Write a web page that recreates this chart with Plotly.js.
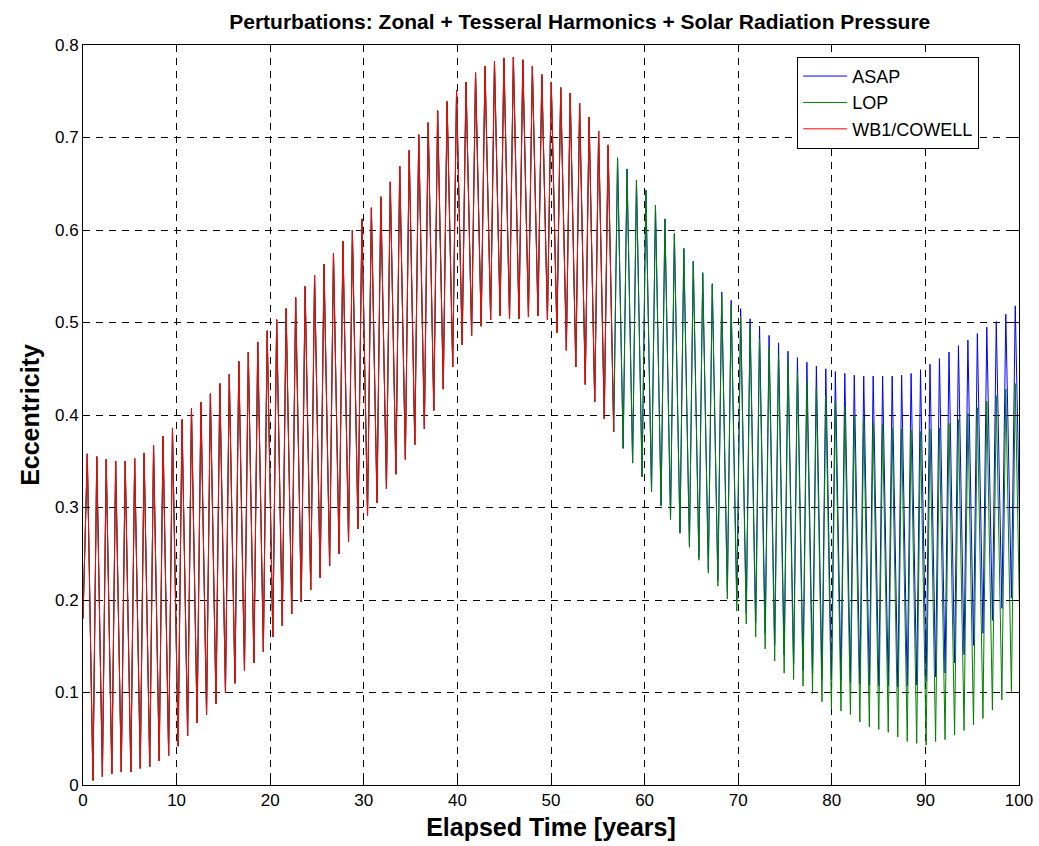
<!DOCTYPE html>
<html><head><meta charset="utf-8">
<script src="https://cdn.plot.ly/plotly-3.0.1.min.js"></script>
<style>body{margin:0;background:#fff}#chart{width:1039px;height:846px}</style>
</head><body><div id="chart"></div>
<script>
// Value at t = 0 (all three propagators start together)
const startValue = 0.18;

// Time (years) of each orbital-cycle maximum and the following minimum
const peakTimes = [0.46,1.47,2.48,3.49,4.51,5.52,6.53,7.54,8.55,9.56,10.58,11.59,12.60,13.61,14.62,15.63,16.65,17.66,18.67,19.68,
 20.69,21.70,22.72,23.73,24.74,25.75,26.76,27.77,28.78,29.80,30.81,31.82,32.83,33.84,34.85,35.87,36.88,37.89,38.90,39.91,
 40.92,41.94,42.95,43.96,44.97,45.98,46.99,48.01,49.02,50.03,51.04,52.05,53.06,54.07,55.09,56.10,57.11,58.12,59.13,60.14,
 61.16,62.17,63.18,64.19,65.20,66.21,67.23,68.24,69.25,70.26,71.27,72.28,73.30,74.31,75.32,76.33,77.34,78.35,79.36,80.38,
 81.39,82.40,83.41,84.42,85.43,86.45,87.46,88.47,89.48,90.49,91.50,92.52,93.53,94.54,95.55,96.56,97.57,98.59,99.60];
const troughTimes = [1.06,2.07,3.08,4.09,5.11,6.12,7.13,8.14,9.15,10.16,11.18,12.19,13.20,14.21,15.22,16.23,17.25,18.26,19.27,20.28,
 21.29,22.30,23.32,24.33,25.34,26.35,27.36,28.37,29.38,30.40,31.41,32.42,33.43,34.44,35.45,36.47,37.48,38.49,39.50,40.51,
 41.52,42.54,43.55,44.56,45.57,46.58,47.59,48.61,49.62,50.63,51.64,52.65,53.66,54.67,55.69,56.70,57.71,58.72,59.73,60.74,
 61.76,62.77,63.78,64.79,65.80,66.81,67.83,68.84,69.85,70.86,71.87,72.88,73.90,74.91,75.92,76.93,77.94,78.95,79.96,80.98,
 81.99,83.00,84.01,85.02,86.03,87.05,88.06,89.07,90.08,91.09,92.10,93.12,94.13,95.14,96.15,97.16,98.17,99.19,100.20];

// Cycles 0..55: all three propagators agree
const commonPeaks = [0.358,0.355,0.352,0.350,0.350,0.353,0.359,0.367,0.377,0.386,0.395,0.407,0.414,0.423,0.434,0.444,0.458,0.468,0.479,0.491,
 0.503,0.515,0.527,0.539,0.551,0.563,0.575,0.588,0.600,0.612,0.624,0.636,0.652,0.669,0.686,0.703,0.716,0.729,0.739,0.751,
 0.760,0.770,0.777,0.782,0.786,0.787,0.784,0.777,0.768,0.760,0.754,0.748,0.737,0.722,0.707,0.692];
const commonTroughs = [0.005,0.009,0.012,0.014,0.014,0.018,0.020,0.026,0.032,0.042,0.053,0.067,0.076,0.088,0.100,0.110,0.124,0.132,0.144,0.160,
 0.172,0.185,0.198,0.211,0.224,0.237,0.250,0.263,0.277,0.291,0.305,0.320,0.336,0.352,0.368,0.385,0.405,0.428,0.452,0.476,
 0.486,0.496,0.503,0.507,0.504,0.504,0.506,0.507,0.503,0.489,0.470,0.452,0.433,0.414,0.396,0.382];

// Cycles 56..98: ASAP and LOP continue after WB1/COWELL stops
const asapPeaks = [0.678,0.666,0.654,0.643,0.627,0.612,0.596,0.580,0.566,0.554,0.542,0.533,0.524,0.515,0.504,0.496,0.486,0.478,0.469,0.462,
 0.457,0.453,0.450,0.447,0.445,0.443,0.442,0.442,0.442,0.442,0.443,0.445,0.449,0.455,0.461,0.468,0.475,0.481,0.488,0.495,
 0.501,0.509,0.518];
const asapTroughs = [0.364,0.348,0.333,0.317,0.302,0.287,0.273,0.259,0.246,0.233,0.221,0.209,0.198,0.186,0.175,0.164,0.152,0.141,0.131,0.124,
 0.121,0.115,0.114,0.113,0.111,0.109,0.108,0.107,0.107,0.106,0.107,0.108,0.112,0.117,0.121,0.132,0.141,0.151,0.164,0.178,
 0.191,0.202,0.215];
const lopPeaks = [0.678,0.666,0.654,0.643,0.627,0.612,0.596,0.580,0.566,0.553,0.541,0.530,0.519,0.507,0.495,0.482,0.473,0.465,0.457,0.447,
 0.436,0.429,0.421,0.414,0.409,0.400,0.396,0.392,0.390,0.386,0.385,0.384,0.382,0.385,0.386,0.391,0.395,0.402,0.408,0.415,
 0.421,0.428,0.434];
const lopTroughs = [0.364,0.348,0.333,0.317,0.302,0.287,0.272,0.257,0.243,0.229,0.215,0.201,0.188,0.174,0.160,0.147,0.134,0.121,0.114,0.107,
 0.099,0.090,0.082,0.080,0.076,0.068,0.063,0.060,0.057,0.052,0.047,0.045,0.043,0.047,0.049,0.054,0.059,0.065,0.072,0.081,
 0.092,0.101,0.110];

const seriesNames = ['ASAP', 'LOP', 'WB1/COWELL'];
const seriesColors = ['#0000ff', '#008000', '#ff0000'];

function buildSeries(peaks, troughs) {
  const x = [0], y = [startValue];
  for (let k = 0; k < peaks.length; k++) {
    x.push(peakTimes[k]); y.push(peaks[k]);
    x.push(troughTimes[k]); y.push(troughs[k]);
  }
  return {x, y};
}

const asap = buildSeries(commonPeaks.concat(asapPeaks), commonTroughs.concat(asapTroughs));
const lop = buildSeries(commonPeaks.concat(lopPeaks), commonTroughs.concat(lopTroughs));
const wb1 = buildSeries(commonPeaks, commonTroughs);

const traces = [asap, lop, wb1].map((s, i) => ({
  type: 'scatter', mode: 'lines', x: s.x, y: s.y, name: seriesNames[i],
  line: {color: seriesColors[i], width: 1}
}));

const FONT = 'Liberation Sans, Arial, sans-serif';
const axisCommon = {
  showline: true, linecolor: '#000', linewidth: 1, mirror: 'ticks',
  ticks: 'inside', ticklen: 6, tickcolor: '#000',
  showgrid: true, gridcolor: '#000', griddash: '7px,6px', gridwidth: 1,
  zeroline: false,
  tickfont: {family: FONT, size: 17, color: '#000'}
};

const layout = {
  width: 1039, height: 846,
  margin: {l: 83, r: 20, t: 45, b: 61},
  paper_bgcolor: '#fff', plot_bgcolor: '#fff',
  title: {text: '<b>Perturbations: Zonal + Tesseral Harmonics + Solar Radiation Pressure</b>',
    font: {family: FONT, size: 21, color: '#000'},
    xref: 'container', x: 0.558, xanchor: 'center', yref: 'container', y: 0.975, yanchor: 'middle'},
  xaxis: Object.assign({}, axisCommon, {range: [0, 100], dtick: 10, tick0: 0,
    title: {text: '<b>Elapsed Time [years]</b>', font: {family: FONT, size: 25, color: '#000'}, standoff: 9}}),
  yaxis: Object.assign({}, axisCommon, {range: [0, 0.8], dtick: 0.1, tick0: 0,
    title: {text: '<b>Eccentricity</b>', font: {family: FONT, size: 25, color: '#000'}, standoff: 8}}),
  showlegend: true,
  legend: {x: 0.763, y: 0.984, xanchor: 'left', yanchor: 'top',
    bordercolor: '#000', borderwidth: 1, bgcolor: '#fff', itemwidth: 44,
    font: {family: FONT, size: 18, color: '#000'}}
};

Plotly.newPlot('chart', traces, layout, {displayModeBar: false, staticPlot: true});
</script>
</body></html>
